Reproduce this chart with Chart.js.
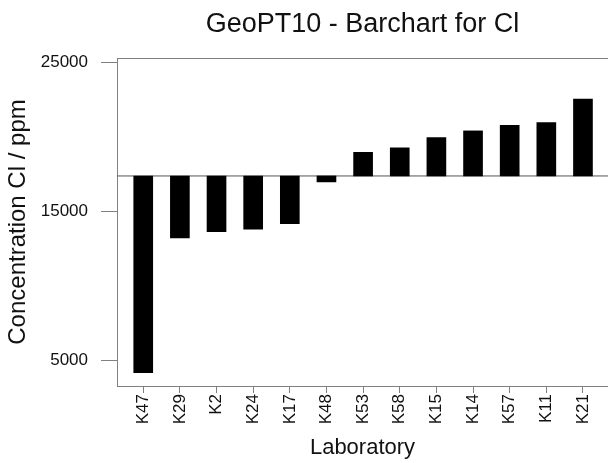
<!DOCTYPE html>
<html>
<head>
<meta charset="utf-8">
<script src="https://cdn.jsdelivr.net/npm/chart.js@4"></script>
<style>
  html, body { margin: 0; padding: 0; background: #fff; }
  #wrap { width: 608px; height: 463px; }
</style>
</head>
<body>
<div id="wrap"><canvas id="barChart" width="608" height="463"></canvas></div>
<script>
// data
const labs = ['K47', 'K29', 'K2', 'K24', 'K17', 'K48', 'K53', 'K58', 'K15', 'K14', 'K57', 'K11', 'K21'];
const clValues = [4160, 13220, 13640, 13820, 14180, 16990, 18980, 19280, 19970, 20420, 20800, 20980, 22550];
const assignedValue = 17390;
const yTicks = [5000, 15000, 25000];

// axis limits
const yMin = 3270, yMax = 25320;
const xMin = -0.716, xMax = 12.683;

const axisGray = '#808080';

Chart.defaults.font.family = '"Liberation Sans", Arial, sans-serif';
Chart.defaults.color = '#111';

const ctx = document.getElementById('barChart');

new Chart(ctx, {
    type: 'bar',
    data: {
        datasets: [
            {
                label: 'Cl',
                data: clValues.map((v, i) => ({ x: i, y: [assignedValue, v] })),
                backgroundColor: '#000',
                borderWidth: 0,
                barThickness: 19,
                order: 1
            },
            {
                type: 'line',
                label: 'assigned',
                data: [{ x: xMin, y: assignedValue }, { x: xMax, y: assignedValue }],
                borderColor: '#555',
                borderWidth: 1,
                pointRadius: 0,
                order: 2
            }
        ]
    },
    options: {
        responsive: false,
        animation: false,
        devicePixelRatio: 1,
        layout: { padding: 0 },
        plugins: {
            legend: { display: false },
            tooltip: { enabled: false }
        },
        scales: {
            x: {
                type: 'linear',
                position: 'bottom',
                offset: false,
                min: xMin,
                max: xMax,
                afterBuildTicks: function(scale) {
                    scale.ticks = labs.map((l, i) => ({ value: i }));
                },
                afterFit: function(scale) {
                    scale.height = 77;
                },
                ticks: {
                    autoSkip: false,
                    minRotation: 90,
                    maxRotation: 90,
                    padding: 1,
                    font: { size: 17 },
                    callback: function(value) {
                        return labs[value];
                    }
                },
                grid: {
                    offset: false,
                    drawOnChartArea: false,
                    tickLength: 7,
                    color: axisGray
                },
                border: { color: axisGray, width: 1 },
                title: {
                    display: true,
                    text: 'Laboratory',
                    font: { size: 22 },
                    color: '#111',
                    padding: { top: 0, bottom: 2 }
                }
            },
            // top frame line + chart title centred over the plot area
            xTop: {
                type: 'linear',
                position: 'top',
                offset: false,
                min: xMin,
                max: xMax,
                afterFit: function(scale) {
                    scale.height = 58;
                },
                ticks: { display: false },
                grid: { display: false },
                border: { display: true, color: axisGray, width: 1 },
                title: {
                    display: true,
                    text: 'GeoPT10 - Barchart for Cl',
                    font: { size: 27 },
                    color: '#111',
                    padding: { top: 8, bottom: 0 }
                }
            },
            y: {
                min: yMin,
                max: yMax,
                afterBuildTicks: function(scale) {
                    scale.ticks = yTicks.map(v => ({ value: v }));
                },
                afterFit: function(scale) {
                    scale.width = 117;
                },
                ticks: {
                    padding: 13,
                    font: { size: 17 },
                    callback: function(value) {
                        return String(value);
                    }
                },
                grid: {
                    drawOnChartArea: false,
                    tickLength: 16,
                    color: axisGray
                },
                border: { color: axisGray, width: 1 },
                title: {
                    display: true,
                    text: 'Concentration Cl / ppm',
                    font: { size: 24 },
                    color: '#111',
                    padding: { top: 4, bottom: 0 }
                }
            }
        }
    }
});
</script>
</body>
</html>
